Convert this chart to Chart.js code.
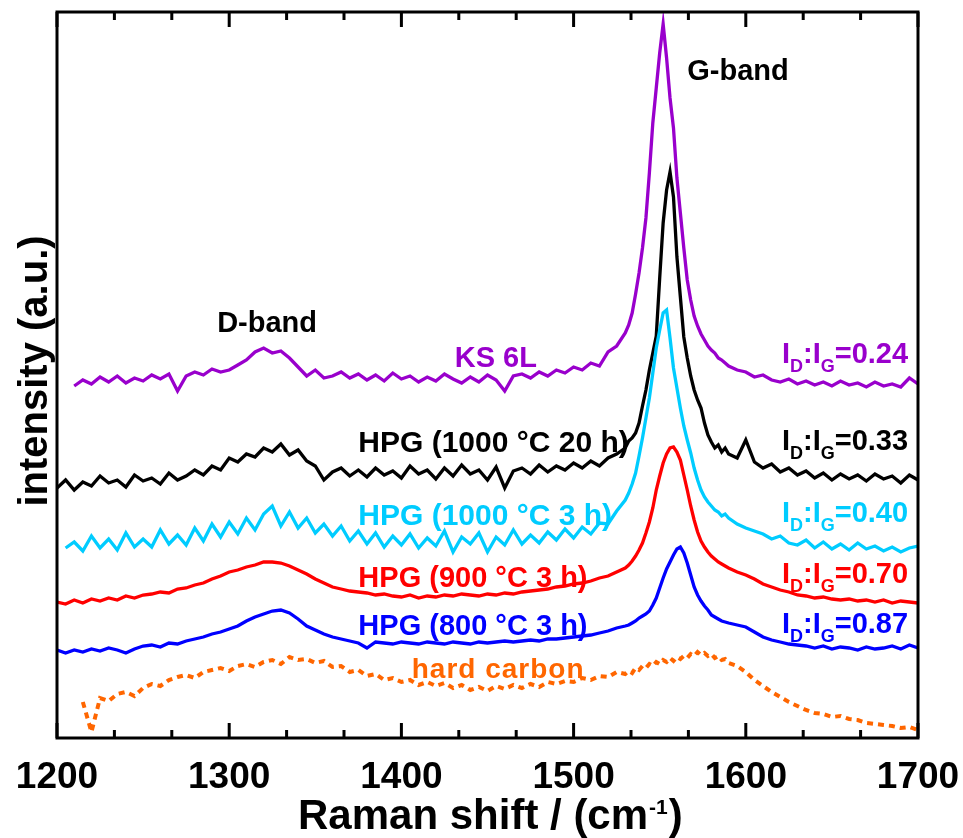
<!DOCTYPE html>
<html>
<head>
<meta charset="utf-8">
<script src="https://cdn.jsdelivr.net/npm/chart.js@4.4.0/dist/chart.umd.min.js"></script>
<style>
  html, body { margin: 0; padding: 0; background: #fff; }
  #wrap { width: 963px; height: 838px; }
</style>
</head>
<body>
<div id="wrap"><canvas id="myChart" width="963" height="838"></canvas></div>
<script>
// Raman shift (cm-1), finer steps around the G band
const wavenumber = [
  1200,1205,1210,1215,1220,1225,1230,1235,1240,1245,
  1250,1255,1260,1265,1270,1275,1280,1285,1290,1295,
  1300,1305,1310,1315,1320,1325,1330,1335,1340,1345,
  1350,1355,1360,1365,1370,1375,1380,1385,1390,1395,
  1400,1405,1410,1415,1420,1425,1430,1435,1440,1445,
  1450,1455,1460,1465,1470,1475,1480,1485,1490,1495,
  1500,1505,1510,1515,1520,1525,1530,
  1532,1534,1536,1538,1540,1542,1544,1546,1548,1550,
  1552,1554,1556,1558,1560,1562,1564,1566,1568,1570,
  1572,1574,1576,1578,1580,1582,1584,1586,1588,1590,
  1595,1600,1605,1610,1615,1620,1625,1630,1635,1640,
  1645,1650,1655,1660,1665,1670,1675,1680,1685,1690,1695,1700
];

// intensities (a.u., curves stacked with offsets)
const ks6L = [
  null,null,352,358,354,361,356,362,355,360,
  357,363,359,364,347,362,366,363,369,366,
  368,373,378,386,390,385,387,380,371,362,
  368,360,362,366,360,364,358,363,357,365,
  359,362,356,361,357,364,359,355,361,356,
  363,358,347,362,364,360,366,362,368,365,
  371,368,375,372,386,392,405,
  413,425,444,465,490,520,565,615,650,685,
  714,680,640,610,560,525,490,458,438,422,
  412,404,398,392,388,385,380,378,375,372,
  368,366,361,363,358,356,359,354,357,353,
  356,352,357,353,355,351,356,352,354,351,360,354
];
const hpg1000_20h = [
  250,258,248,256,252,262,255,258,251,263,
  257,260,254,265,258,262,268,263,272,268,
  280,276,284,281,290,286,294,283,288,277,
  272,258,266,270,262,268,261,270,263,267,
  260,272,264,268,259,270,262,273,264,268,
  258,271,250,267,270,264,273,266,272,268,
  275,270,277,272,280,284,290,
  297,300,305,315,332,348,368,385,402,460,
  515,548,566,541,481,441,401,380,362,348,
  338,330,315,303,296,290,293,286,290,284,
  280,298,276,270,274,266,270,263,267,260,
  265,258,264,259,263,257,264,259,262,255,263,258
];
const hpg1000_3h = [
  null,190,196,187,202,190,199,188,205,191,
  199,191,208,194,203,193,210,197,214,201,
  216,204,220,208,224,232,212,226,210,220,
  205,214,202,212,197,207,194,205,191,202,
  193,204,190,200,192,207,186,201,194,205,
  186,201,193,208,194,203,195,206,198,209,
  200,211,204,215,214,227,238,
  245,254,265,282,300,320,340,365,390,408,
  425,428,400,370,350,330,312,298,285,270,
  258,248,241,236,232,228,226,222,224,220,
  214,210,207,204,199,202,195,193,198,190,
  196,189,194,188,195,189,192,187,191,186,190,192
];
const hpg900_3h = [
  136,134,138,135,139,137,140,138,142,140,
  143,144,146,145,149,150,153,155,159,162,
  166,168,171,173,176,176,175,172,168,164,
  159,155,151,149,147,146,145,143,144,142,
  141,143,140,142,141,143,142,144,143,142,
  144,143,145,144,146,147,148,149,151,152,
  154,155,157,160,162,166,170,
  173,177,182,188,195,205,216,230,248,262,
  275,284,290,291,286,278,263,248,232,218,
  206,197,191,186,182,179,176,174,172,170,
  166,163,159,154,151,148,146,143,142,140,
  141,139,138,139,137,138,136,138,135,137,136,135
];
const hpg800_3h = [
  88,85,88,86,89,87,90,88,85,89,
  92,93,91,95,94,97,99,101,104,106,
  109,112,117,121,124,127,128,125,119,112,
  108,104,101,99,97,95,90,96,95,94,
  96,95,94,96,95,94,96,95,94,96,
  95,96,97,96,97,98,97,99,99,100,
  101,102,103,105,107,110,112,
  113,115,117,120,122,124,127,133,140,150,
  160,169,176,183,189,191,185,175,163,151,
  143,137,132,128,123,121,119,117,116,115,
  113,111,106,101,98,96,94,93,92,90,
  92,89,91,90,88,91,89,90,92,89,93,90
];
const hardCarbon = [
  null,null,null,36,6,40,37,44,46,42,
  50,54,52,58,61,63,60,66,68,70,
  67,72,74,71,76,78,74,81,78,79,
  75,77,71,72,66,68,62,64,58,60,
  56,58,53,56,52,55,50,53,48,51,
  47,52,49,53,50,54,51,56,54,57,
  56,60,58,62,61,66,64,
  67,65,70,68,72,70,74,72,76,74,
  78,76,80,77,81,79,82,80,84,82,
  86,83,85,82,84,80,82,78,79,75,
  72,66,58,52,46,41,36,32,28,25,
  24,21,22,19,18,15,14,13,12,10,11,8
];

const sampleNames = ['KS 6L', 'HPG (1000 °C 20 h)', 'HPG (1000 °C 3 h)', 'HPG (900 °C 3 h)', 'HPG (800 °C 3 h)', 'hard carbon'];
const ratios = ['0.24', '0.33', '0.40', '0.70', '0.87'];
const xTickLabels = [1200, 1300, 1400, 1500, 1600, 1700];

const colors = ['#9900cc', '#000000', '#00ccff', '#ff0000', '#0000ff', '#ff6600'];
const FONT = '"Liberation Sans", Arial, Helvetica, sans-serif';

function pts(arr) {
  return wavenumber.map((x, i) => ({ x: x, y: arr[i] }));
}

function line(label, arr, color, extra) {
  return Object.assign({
    label: label,
    data: pts(arr),
    borderColor: color,
    borderWidth: 3.3,
    pointRadius: 0,
    tension: 0,
    fill: false
  }, extra || {});
}

// text: name at [x, baseline] in data units
const namePos = [[1431, 371], [1375, 286], [1375, 213], [1375, 151], [1375, 103], [1406, 60]];
const ratioPos = [[1621, 375], [1621, 288], [1621, 216], [1621, 155], [1621, 105]];

const decorations = {
  id: 'decorations',
  beforeDatasetsDraw(chart) {
    const ctx = chart.ctx;
    const xs = chart.scales.x, ys = chart.scales.y;
    ctx.save();
    ctx.textBaseline = 'alphabetic';
    ctx.textAlign = 'left';

    ctx.fillStyle = '#000';
    ctx.font = 'bold 29px ' + FONT;
    ctx.fillText('D-band', xs.getPixelForValue(1293), ys.getPixelForValue(406));
    ctx.fillText('G-band', xs.getPixelForValue(1566), ys.getPixelForValue(658));

    sampleNames.forEach((name, i) => {
      ctx.fillStyle = colors[i];
      ctx.font = (i === 1 || i === 2 ? 'bold 30px ' : 'bold 29px ') + FONT;
      if (i === 5) { ctx.font = 'bold 28px ' + FONT; ctx.letterSpacing = '1px'; }
      ctx.fillText(name, xs.getPixelForValue(namePos[i][0]), ys.getPixelForValue(namePos[i][1]));
      ctx.letterSpacing = '0px';
    });

    ratios.forEach((r, i) => {
      let x = xs.getPixelForValue(ratioPos[i][0]);
      const y = ys.getPixelForValue(ratioPos[i][1]);
      ctx.fillStyle = colors[i];
      const parts = [['I', 0], ['D', 1], [':I', 0], ['G', 1], ['=' + r, 0]];
      parts.forEach(p => {
        ctx.font = (p[1] ? 'bold 18px ' : 'bold 29px ') + FONT;
        ctx.fillText(p[0], x, y + (p[1] ? 9 : 0));
        x += ctx.measureText(p[0]).width;
      });
    });
    ctx.restore();
  },
  afterDraw(chart) {
    const ctx = chart.ctx;
    const a = chart.chartArea;
    const xs = chart.scales.x;
    ctx.save();
    ctx.strokeStyle = '#000';
    ctx.lineWidth = 3;
    ctx.strokeRect(a.left, a.top, a.right - a.left, a.bottom - a.top);

    // inward ticks top and bottom, two minor ticks per 100
    ctx.beginPath();
    for (let k = 0; k < xTickLabels.length; k++) {
      const v = xTickLabels[k];
      for (let m = 0; m < 3; m++) {
        const t = v + m * 100 / 3;
        if (t > 1700) break;
        const px = xs.getPixelForValue(t);
        const len = m === 0 ? 15 : 8;
        ctx.moveTo(px, a.bottom);
        ctx.lineTo(px, a.bottom - len);
        ctx.moveTo(px, a.top);
        ctx.lineTo(px, a.top + len);
      }
    }
    ctx.stroke();

    ctx.fillStyle = '#000';
    ctx.font = 'bold 37px ' + FONT;
    ctx.textAlign = 'center';
    ctx.textBaseline = 'alphabetic';
    xTickLabels.forEach(v => {
      ctx.fillText(String(v), xs.getPixelForValue(v), a.bottom + 50);
    });

    // x title with superscript
    ctx.textAlign = 'left';
    let x = 298;
    const yb = 829;
    ctx.font = 'bold 42px ' + FONT;
    ctx.fillText('Raman shift / (cm', x, yb);
    x += ctx.measureText('Raman shift / (cm').width;
    ctx.font = 'bold 21px ' + FONT;
    ctx.fillText('-1', x + 1, yb - 15);
    x += ctx.measureText('-1').width + 2;
    ctx.font = 'bold 42px ' + FONT;
    ctx.fillText(')', x, yb);

    // y title
    ctx.translate(47, 371);
    ctx.rotate(-Math.PI / 2);
    ctx.textAlign = 'center';
    ctx.font = 'bold 40px ' + FONT;
    ctx.fillText('intensity (a.u.)', 0, 0);
    ctx.restore();
  }
};

new Chart(document.getElementById('myChart'), {
  type: 'line',
  data: {
    datasets: [
      line(sampleNames[2], hpg1000_3h, colors[2]),
      line(sampleNames[0], ks6L, colors[0]),
      line(sampleNames[1], hpg1000_20h, colors[1]),
      line(sampleNames[3], hpg900_3h, colors[3]),
      line(sampleNames[4], hpg800_3h, colors[4]),
      line(sampleNames[5], hardCarbon, colors[5], { borderWidth: 4, borderDash: [6, 5] })
    ]
  },
  options: {
    responsive: false,
    animation: false,
    layout: { padding: { left: 57, top: 12, right: 45, bottom: 100 } },
    scales: {
      x: { type: 'linear', min: 1200, max: 1700, display: false },
      y: { min: 0, max: 726, display: false }
    },
    plugins: {
      legend: { display: false },
      tooltip: { enabled: false }
    }
  },
  plugins: [decorations]
});
</script>
</body>
</html>
